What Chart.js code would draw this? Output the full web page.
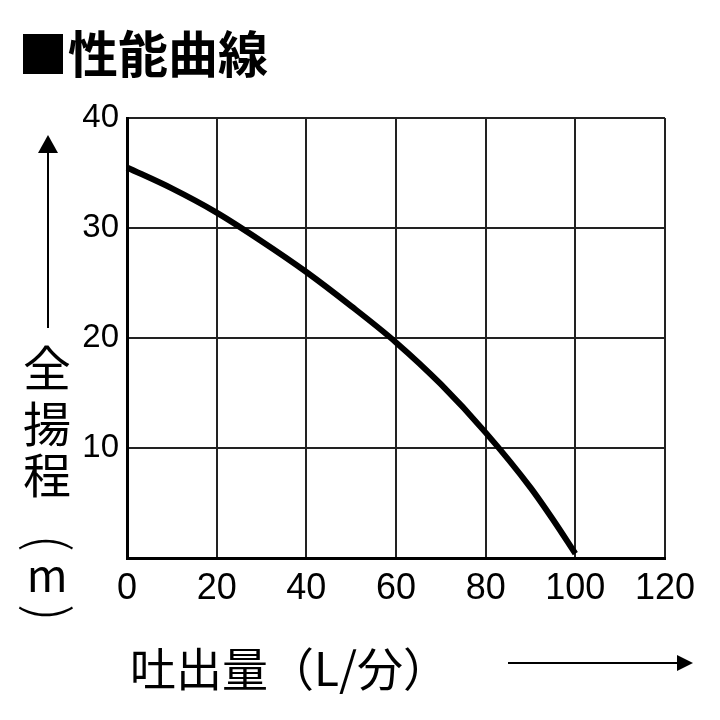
<!DOCTYPE html>
<html>
<head>
<meta charset="utf-8">
<script src="https://cdn.jsdelivr.net/npm/chart.js@4.4.1/dist/chart.umd.min.js"></script>
<style>
html,body{margin:0;padding:0;background:#fff;}
canvas{display:block;}
</style>
</head>
<body>
<canvas id="c" width="720" height="720"></canvas>
<script>
// ---- data ----
const flow = [0, 10, 20, 30, 40, 50, 60, 70, 80, 90, 95, 100];                 // 吐出量 (L/分)
const head = [35.5, 33.6, 31.4, 28.8, 26.0, 22.9, 19.6, 15.8, 11.4, 6.4, 3.5, 0.4]; // 全揚程 (m)
const xTicks = [0, 20, 40, 60, 80, 100, 120];
const yTicks = [0, 10, 20, 30, 40];
const yTickLabels = ['', '10', '20', '30', '40'];
const titleText = '■性能曲線';
const xTitle = '吐出量（L/分）';
const yTitleChars = ['全', '揚', '程'];
const yUnitChars = ['(', 'm', ')'];

const numFont = '"Liberation Sans", Arial, sans-serif';
const cjkFont = '"Noto Sans CJK JP", "Noto Sans CJK SC", sans-serif';

const decor = {
  id: 'decor',
  afterDraw(chart) {
    const ctx = chart.ctx;
    ctx.save();
    ctx.fillStyle = '#000';
    ctx.strokeStyle = '#000';
    // title
    ctx.font = '700 50px ' + cjkFont;
    ctx.textBaseline = 'alphabetic';
    ctx.textAlign = 'left';
    ctx.fillText(titleText, 18, 73);
    // x title
    ctx.font = '400 46px ' + cjkFont;
    ctx.fillText(xTitle, 130, 686);
    // x arrow
    ctx.lineWidth = 2;
    ctx.beginPath(); ctx.moveTo(508, 663); ctx.lineTo(680, 663); ctx.stroke();
    ctx.beginPath(); ctx.moveTo(693, 663); ctx.lineTo(677, 655); ctx.lineTo(677, 671); ctx.closePath(); ctx.fill();
    // y arrow
    ctx.beginPath(); ctx.moveTo(48, 328); ctx.lineTo(48, 145); ctx.stroke();
    ctx.beginPath(); ctx.moveTo(48, 135); ctx.lineTo(38, 153); ctx.lineTo(58, 153); ctx.closePath(); ctx.fill();
    // y title vertical
    ctx.textAlign = 'center';
    ctx.textBaseline = 'middle';
    ctx.font = '400 48px ' + cjkFont;
    const ys = [368, 424, 475];
    yTitleChars.forEach((ch, i) => ctx.fillText(ch, 47, ys[i]));
    // unit (m) written vertically: parentheses rotated
    const us = [543, 578, 613];
    ctx.font = '300 54px ' + cjkFont;
    [0, 2].forEach(i => {
      ctx.save();
      ctx.translate(50, us[i]);
      ctx.rotate(Math.PI / 2);
      ctx.fillText(yUnitChars[i], 0, 0);
      ctx.restore();
    });
    ctx.font = '400 44px ' + cjkFont;
    ctx.fillText(yUnitChars[1], 47, us[1] - 3);
    ctx.restore();
  }
};

new Chart(document.getElementById('c'), {
  type: 'line',
  data: {
    datasets: [{
      data: flow.map((x, i) => ({ x: x, y: head[i] })),
      borderColor: '#000',
      borderWidth: 6,
      pointRadius: 0,
      fill: false,
      cubicInterpolationMode: 'monotone',
      clip: false
    }]
  },
  options: {
    responsive: false,
    animation: false,
    devicePixelRatio: 1,
    layout: { padding: { left: 0, top: 118, right: 55, bottom: 0 } },
    plugins: { legend: { display: false }, tooltip: { enabled: false }, title: { display: false } },
    scales: {
      x: {
        type: 'linear', min: 0, max: 120,
        afterBuildTicks: s => { s.ticks = xTicks.map(v => ({ value: v })); },
        afterFit: s => { s.height = 162; },
        grid: { color: '#222', lineWidth: 2, drawTicks: false },
        border: { color: '#000', width: 3 },
        ticks: { color: '#000', padding: 9, font: { family: numFont, size: 36 }, maxRotation: 0, autoSkip: false,
                 callback: v => String(v) }
      },
      y: {
        type: 'linear', min: 0, max: 40,
        afterBuildTicks: s => { s.ticks = yTicks.map(v => ({ value: v })); },
        afterFit: s => { s.width = 127; },
        grid: { color: '#222', lineWidth: 2, drawTicks: false },
        border: { color: '#000', width: 3 },
        ticks: { color: '#000', padding: 8, font: { family: numFont, size: 33 }, autoSkip: false,
                 callback: v => yTickLabels[yTicks.indexOf(v)] }
      }
    }
  },
  plugins: [decor]
});
</script>
</body>
</html>
